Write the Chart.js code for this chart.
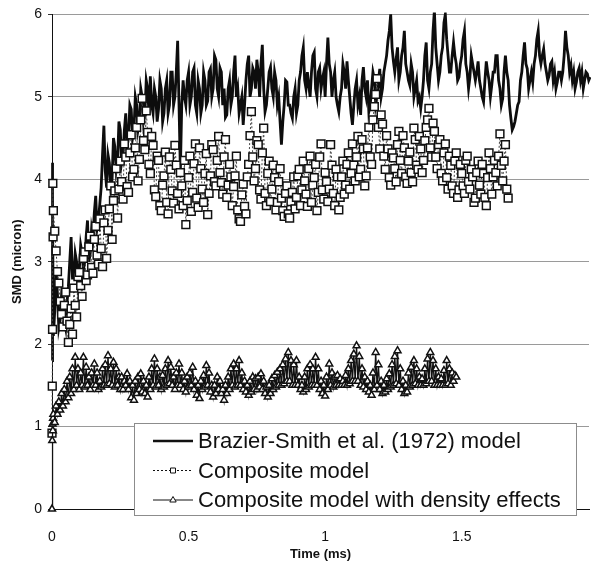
<!DOCTYPE html>
<html>
<head>
<meta charset="utf-8">
<style>
  html, body { margin: 0; padding: 0; background: #fff; }
  #wrap { width: 596px; height: 562px; }
</style>
<script src="https://cdn.jsdelivr.net/npm/chart.js@4.4.0/dist/chart.umd.min.js"></script>
</head>
<body>
<div id="wrap"><canvas id="smdChart" width="596" height="562"></canvas></div>
<script>
// sample times (ms) - a few very fine steps at the start, then every 0.005 ms
const sampleTimes = [
  0, 0.001, 0.002, 0.003, 0.004,
  0.005, 0.01, 0.015, 0.02, 0.025, 0.03, 0.035, 0.04, 0.045, 0.05,
  0.055, 0.06, 0.065, 0.07, 0.075, 0.08, 0.085, 0.09, 0.095, 0.1,
  0.105, 0.11, 0.115, 0.12, 0.125, 0.13, 0.135, 0.14, 0.145, 0.15,
  0.155, 0.16, 0.165, 0.17, 0.175, 0.18, 0.185, 0.19, 0.195, 0.2,
  0.205, 0.21, 0.215, 0.22, 0.225, 0.23, 0.235, 0.24, 0.245, 0.25,
  0.255, 0.26, 0.265, 0.27, 0.275, 0.28, 0.285, 0.29, 0.295, 0.3,
  0.305, 0.31, 0.315, 0.32, 0.325, 0.33, 0.335, 0.34, 0.345, 0.35,
  0.355, 0.36, 0.365, 0.37, 0.375, 0.38, 0.385, 0.39, 0.395, 0.4,
  0.405, 0.41, 0.415, 0.42, 0.425, 0.43, 0.435, 0.44, 0.445, 0.45,
  0.455, 0.46, 0.465, 0.47, 0.475, 0.48, 0.485, 0.49, 0.495, 0.5,
  0.505, 0.51, 0.515, 0.52, 0.525, 0.53, 0.535, 0.54, 0.545, 0.55,
  0.555, 0.56, 0.565, 0.57, 0.575, 0.58, 0.585, 0.59, 0.595, 0.6,
  0.605, 0.61, 0.615, 0.62, 0.625, 0.63, 0.635, 0.64, 0.645, 0.65,
  0.655, 0.66, 0.665, 0.67, 0.675, 0.68, 0.685, 0.69, 0.695, 0.7,
  0.705, 0.71, 0.715, 0.72, 0.725, 0.73, 0.735, 0.74, 0.745, 0.75,
  0.755, 0.76, 0.765, 0.77, 0.775, 0.78, 0.785, 0.79, 0.795, 0.8,
  0.805, 0.81, 0.815, 0.82, 0.825, 0.83, 0.835, 0.84, 0.845, 0.85,
  0.855, 0.86, 0.865, 0.87, 0.875, 0.88, 0.885, 0.89, 0.895, 0.9,
  0.905, 0.91, 0.915, 0.92, 0.925, 0.93, 0.935, 0.94, 0.945, 0.95,
  0.955, 0.96, 0.965, 0.97, 0.975, 0.98, 0.985, 0.99, 0.995, 1.0,
  1.005, 1.01, 1.015, 1.02, 1.025, 1.03, 1.035, 1.04, 1.045, 1.05,
  1.055, 1.06, 1.065, 1.07, 1.075, 1.08, 1.085, 1.09, 1.095, 1.1,
  1.105, 1.11, 1.115, 1.12, 1.125, 1.13, 1.135, 1.14, 1.145, 1.15,
  1.155, 1.16, 1.165, 1.17, 1.175, 1.18, 1.185, 1.19, 1.195, 1.2,
  1.205, 1.21, 1.215, 1.22, 1.225, 1.23, 1.235, 1.24, 1.245, 1.25,
  1.255, 1.26, 1.265, 1.27, 1.275, 1.28, 1.285, 1.29, 1.295, 1.3,
  1.305, 1.31, 1.315, 1.32, 1.325, 1.33, 1.335, 1.34, 1.345, 1.35,
  1.355, 1.36, 1.365, 1.37, 1.375, 1.38, 1.385, 1.39, 1.395, 1.4,
  1.405, 1.41, 1.415, 1.42, 1.425, 1.43, 1.435, 1.44, 1.445, 1.45,
  1.455, 1.46, 1.465, 1.47, 1.475, 1.48, 1.485, 1.49, 1.495, 1.5,
  1.505, 1.51, 1.515, 1.52, 1.525, 1.53, 1.535, 1.54, 1.545, 1.55,
  1.555, 1.56, 1.565, 1.57, 1.575, 1.58, 1.585, 1.59, 1.595, 1.6,
  1.605, 1.61, 1.615, 1.62, 1.625, 1.63, 1.635, 1.64, 1.645, 1.65,
  1.655, 1.66, 1.665, 1.67, 1.675, 1.68, 1.685, 1.69, 1.695, 1.7,
  1.705, 1.71, 1.715, 1.72, 1.725, 1.73, 1.735, 1.74, 1.745, 1.75,
  1.755, 1.76, 1.765, 1.77, 1.775, 1.78, 1.785, 1.79, 1.795, 1.8,
  1.805, 1.81, 1.815, 1.82, 1.825, 1.83, 1.835, 1.84, 1.845, 1.85,
  1.855, 1.86, 1.865, 1.87, 1.875, 1.88, 1.885, 1.89, 1.895, 1.9,
  1.905, 1.91, 1.915, 1.92, 1.925, 1.93, 1.935, 1.94, 1.945, 1.95,
  1.955, 1.96, 1.965, 1.97
];

// SMD (micron)
const brazierSmith = [
  1.8, 4.2, 3.0, 3.8, 2.4,
  2.1, 2.4, 2.9, 2.6, 2.2, 2.3, 2.6, 2.5, 2.3, 2.2,
  2.5, 2.7, 3.0, 3.3, 2.8, 2.8, 3.1, 3.0, 2.8, 2.9,
  3.2, 3.1, 2.9, 3.0, 3.3, 3.5, 3.0, 3.1, 3.4, 3.3,
  3.6, 3.8, 3.4, 3.5, 3.7, 3.9, 4.3, 4.65, 4.1, 3.9,
  4.3, 4.2, 3.9, 4.0, 4.5, 4.4, 4.1, 4.2, 4.7, 4.6,
  4.2, 4.3, 4.6, 4.8, 4.4, 4.5, 4.9, 4.85, 4.5, 4.6,
  5.0, 4.9, 4.6, 4.7, 5.1, 5.0, 4.7, 4.8, 5.2, 5.1,
  4.8, 5.25, 4.9, 4.8, 5.1, 5.0, 4.7, 4.85, 5.2, 5.1,
  4.7, 4.8, 5.1, 5.2, 4.8, 4.9, 5.3, 5.3, 4.9, 5.0,
  5.3, 5.68, 4.9, 4.1, 4.9, 5.2, 5.0, 4.9, 5.2, 5.3,
  4.9, 5.0, 5.3, 5.35, 4.9, 4.8, 5.2, 5.1, 4.8, 4.9,
  5.3, 5.2, 4.9, 4.95, 5.3, 5.34, 5.0, 5.1, 5.5, 5.45,
  5.1, 5.0, 5.35, 5.3, 4.9, 5.1, 4.75, 4.78, 5.1, 5.2,
  4.9, 5.0, 5.3, 5.5, 5.0, 5.1, 4.8, 4.9, 5.0, 4.66,
  4.9, 5.2, 5.4, 5.5, 5.0, 5.1, 5.35, 5.3, 5.1, 5.45,
  5.3, 5.0, 5.4, 5.63, 5.1, 4.82, 4.9, 5.1, 5.3, 5.36,
  5.1, 5.0, 5.3, 5.2, 4.9, 5.0, 4.7, 4.42, 4.7, 4.9,
  5.2, 5.18, 4.9, 4.9, 4.8, 4.74, 5.0, 5.1, 4.8, 4.9,
  5.2, 5.3, 5.5, 5.6, 5.2, 5.1, 5.3, 5.14, 5.0, 5.3,
  5.5, 5.54, 5.1, 5.0, 5.3, 5.35, 5.1, 5.22, 5.3, 5.0,
  5.4, 5.72, 5.4, 5.3, 5.0, 5.2, 5.3, 5.0, 4.9, 4.82,
  5.0, 5.1, 5.4, 5.3, 5.1, 5.43, 5.2, 5.0, 4.8, 4.66,
  4.9, 5.1, 5.2, 4.9, 5.0, 4.78, 5.2, 5.36, 5.1, 5.0,
  5.2, 4.82, 4.9, 5.1, 5.3, 5.22, 4.9, 5.0, 5.2, 5.34,
  5.0, 5.1, 5.3, 5.4, 5.5, 5.68, 5.8, 6.0, 5.6, 5.43,
  5.3, 5.46, 5.6, 5.2, 5.3, 5.5, 5.6, 5.8, 5.4, 5.3,
  5.2, 5.14, 5.4, 5.3, 5.0, 5.1, 5.2, 4.95, 5.0, 4.86,
  5.0, 5.2, 5.5, 5.66, 5.2, 5.1, 5.3, 5.4, 5.8, 6.05,
  5.6, 5.4, 5.2, 5.3, 5.5, 5.6, 5.9, 6.0, 5.7, 5.5,
  5.3, 5.3, 5.5, 5.66, 5.5, 5.4, 5.2, 5.24, 5.4, 5.5,
  5.7, 5.8, 5.4, 5.3, 5.1, 5.24, 5.5, 5.4, 5.3, 5.2,
  5.3, 5.43, 5.2, 5.1, 5.0, 4.94, 5.2, 5.43, 5.3, 5.2,
  5.0, 5.14, 5.3, 5.3, 5.5, 5.5, 5.2, 5.1, 4.9, 4.98,
  5.3, 5.5, 5.3, 5.2, 4.9, 4.74, 4.6, 4.64, 4.7, 4.8,
  4.9, 4.94, 5.2, 5.3, 5.5, 5.66, 5.4, 5.34, 5.1, 5.2,
  5.3, 5.18, 5.4, 5.5, 5.7, 5.8, 5.5, 5.4, 5.5, 5.58,
  5.4, 5.3, 5.2, 5.26, 5.4, 5.43, 5.2, 5.3, 5.1, 5.18,
  5.3, 5.3, 5.2, 5.3, 5.5, 5.8, 5.6, 5.5, 5.3, 5.38,
  5.2, 5.3, 5.1, 5.18, 5.3, 5.35, 5.2, 5.3, 5.1, 5.2,
  5.3, 5.28, 5.2, 5.24
];

const composite = [
  0.92, 1.49, 2.18, 3.95, 3.3,
  3.62, 3.37, 3.13, 2.88, 2.74, 2.52, 2.36, 2.21, 2.47, 2.63,
  2.28, 2.02, 2.24, 2.43, 2.12, 2.68, 2.47, 2.33, 2.82, 2.87,
  2.71, 2.58, 3.04, 3.12, 2.77, 2.84, 3.18, 3.31, 2.93, 2.86,
  3.27, 3.43, 3.08, 2.97, 3.52, 3.16, 2.94, 3.47, 3.63, 3.04,
  3.38, 3.64, 3.92, 3.27, 3.74, 3.86, 4.13, 3.53, 3.88, 4.22,
  3.97, 3.76, 4.43, 4.27, 3.91, 3.84, 4.32, 4.54, 4.03, 4.12,
  4.38, 4.63, 3.98, 4.24, 4.72, 4.98, 4.47, 4.36, 4.83, 4.57,
  4.18, 4.07, 4.52, 4.41, 3.87, 3.79, 4.28, 4.23, 3.68, 3.62,
  3.93, 4.04, 4.33, 3.72, 3.58, 4.27, 4.12, 3.86, 3.71, 4.41,
  4.17, 3.83, 3.64, 4.08, 3.92, 3.68, 4.23, 3.45, 3.74, 4.02,
  4.28, 3.61, 3.84, 4.19, 4.43, 3.77, 3.66, 4.38, 4.13, 3.88,
  3.72, 4.07, 4.31, 3.57, 3.83, 4.04, 4.42, 4.36, 3.97, 3.92,
  4.23, 4.52, 4.08, 3.96, 3.82, 4.27, 4.48, 3.78, 3.93, 4.18,
  4.03, 3.68, 3.91, 4.04, 4.28, 3.63, 3.52, 3.49, 3.81, 3.94,
  3.67, 3.58, 4.03, 4.18, 4.53, 4.82, 4.27, 3.98, 4.13, 4.47,
  4.42, 3.87, 3.76, 4.32, 4.62, 3.83, 3.68, 4.07, 4.22, 3.73,
  3.88, 4.17, 4.02, 3.63, 3.72, 3.97, 4.13, 3.77, 3.62, 3.55,
  3.83, 3.92, 3.58, 3.53, 3.73, 3.84, 4.03, 3.64, 3.78, 4.04,
  4.12, 3.68, 3.87, 4.22, 3.98, 3.82, 3.67, 4.13, 4.28, 3.72,
  3.93, 4.02, 4.18, 3.62, 3.84, 4.27, 4.43, 3.87, 3.76, 4.08,
  3.97, 3.73, 3.88, 4.42, 4.17, 3.83, 3.68, 4.12, 4.03, 3.63,
  3.78, 4.03, 4.22, 3.82, 3.93, 4.18, 4.32, 3.88, 4.07, 4.43,
  4.17, 3.98, 4.27, 4.52, 4.03, 4.12, 4.48, 4.37, 3.92, 4.04,
  4.38, 4.63, 4.27, 4.18, 4.72, 4.88, 5.03, 5.22, 4.63, 4.37,
  4.78, 4.67, 4.28, 4.12, 4.53, 4.37, 4.02, 3.93, 4.32, 4.26,
  4.13, 3.97, 4.42, 4.58, 4.23, 4.07, 4.53, 4.38, 4.03, 3.95,
  4.22, 4.33, 4.08, 3.97, 4.62, 4.48, 4.17, 4.12, 4.52, 4.37,
  4.08, 4.23, 4.47, 4.63, 4.72, 4.86, 4.38, 4.27, 4.68, 4.58,
  4.27, 4.13, 4.42, 4.48, 4.07, 3.98, 4.32, 4.43, 4.02, 3.88,
  4.28, 4.17, 3.92, 3.83, 4.22, 4.32, 3.78, 3.87, 4.18, 4.07,
  3.92, 3.83, 4.23, 4.28, 3.97, 3.88, 4.12, 4.03, 3.72, 3.77,
  4.08, 4.22, 3.93, 3.82, 4.18, 4.07, 3.78, 3.68, 4.02, 4.32,
  4.13, 3.82, 4.03, 4.23, 4.08, 3.92, 4.28, 4.55, 4.17, 3.98,
  4.22, 4.42, 3.88, 3.77
];

const compositeDensity = [
  0, 0.83, 1.03, 0.95, 1.1,
  1.15, 1.05, 1.25, 1.15, 1.3, 1.2, 1.4, 1.25, 1.45, 1.3,
  1.55, 1.35, 1.6, 1.4, 1.7, 1.45, 1.84, 1.5, 1.7, 1.45,
  1.65, 1.5, 1.84, 1.48, 1.72, 1.5, 1.6, 1.45, 1.65, 1.5,
  1.76, 1.5, 1.65, 1.45, 1.55, 1.48, 1.7, 1.5, 1.75, 1.5,
  1.86, 1.52, 1.7, 1.5, 1.78, 1.48, 1.7, 1.5, 1.6, 1.45,
  1.6, 1.45, 1.55, 1.5, 1.64, 1.45, 1.55, 1.35, 1.5, 1.32,
  1.55, 1.4, 1.6, 1.45, 1.64, 1.42, 1.55, 1.4, 1.5, 1.36,
  1.6, 1.45, 1.7, 1.5, 1.82, 1.48, 1.7, 1.5, 1.6, 1.45,
  1.62, 1.48, 1.7, 1.5, 1.8, 1.52, 1.72, 1.5, 1.6, 1.45,
  1.65, 1.5, 1.76, 1.5, 1.65, 1.45, 1.55, 1.42, 1.6, 1.48,
  1.65, 1.5, 1.72, 1.45, 1.55, 1.38, 1.5, 1.34, 1.55, 1.45,
  1.62, 1.48, 1.74, 1.5, 1.65, 1.42, 1.5, 1.36, 1.5, 1.4,
  1.6, 1.45, 1.55, 1.4, 1.45, 1.32, 1.5, 1.4, 1.6, 1.45,
  1.7, 1.5, 1.76, 1.48, 1.7, 1.5, 1.8, 1.5, 1.65, 1.45,
  1.55, 1.42, 1.5, 1.38, 1.55, 1.42, 1.6, 1.45, 1.58, 1.45,
  1.6, 1.48, 1.64, 1.45, 1.55, 1.4, 1.48, 1.36, 1.5, 1.4,
  1.58, 1.45, 1.62, 1.48, 1.66, 1.5, 1.7, 1.5, 1.75, 1.52,
  1.82, 1.55, 1.9, 1.55, 1.8, 1.5, 1.75, 1.5, 1.8, 1.5,
  1.6, 1.45, 1.5, 1.42, 1.6, 1.45, 1.7, 1.48, 1.75, 1.5,
  1.7, 1.5, 1.84, 1.5, 1.7, 1.45, 1.55, 1.4, 1.5, 1.37,
  1.6, 1.45, 1.76, 1.5, 1.65, 1.48, 1.6, 1.5, 1.62, 1.5,
  1.58, 1.5, 1.55, 1.5, 1.62, 1.5, 1.7, 1.52, 1.8, 1.55,
  1.88, 1.55, 1.98, 1.55, 1.85, 1.5, 1.7, 1.48, 1.6, 1.45,
  1.55, 1.42, 1.5, 1.38, 1.65, 1.45, 1.9, 1.5, 1.75, 1.45,
  1.55, 1.4, 1.5, 1.42, 1.58, 1.45, 1.64, 1.48, 1.75, 1.5,
  1.85, 1.52, 1.92, 1.5, 1.7, 1.45, 1.55, 1.4, 1.5, 1.42,
  1.65, 1.48, 1.72, 1.5, 1.8, 1.52, 1.7, 1.5, 1.6, 1.5,
  1.58, 1.5, 1.7, 1.52, 1.82, 1.55, 1.9, 1.55, 1.8, 1.5,
  1.7, 1.5, 1.6, 1.5, 1.58, 1.5, 1.68, 1.5, 1.8, 1.52,
  1.7, 1.5, 1.65, 1.55, 1.62, 1.6
];

const seriesNames = [
  'Brazier-Smith et al. (1972) model',
  'Composite model',
  'Composite model with density effects'
];
const xTickValues = [0, 0.5, 1, 1.5];

const FONT = '"Liberation Sans", Arial, Helvetica, sans-serif';

function toPoints(values) {
  return values.map((v, i) => ({ x: sampleTimes[i], y: v }));
}

// small marker used in the legend box
function drawMarker(ctx, style, x, y) {
  ctx.save();
  ctx.setLineDash([]);
  ctx.lineWidth = 1;
  ctx.strokeStyle = '#111';
  ctx.fillStyle = '#fff';
  ctx.beginPath();
  if (style === 'rect') {
    ctx.rect(x - 2.5, y - 2.5, 5, 5);
  } else if (style === 'triangle') {
    ctx.moveTo(x, y - 3.5);
    ctx.lineTo(x + 3.2, y + 2);
    ctx.lineTo(x - 3.2, y + 2);
    ctx.closePath();
  }
  ctx.fill();
  ctx.stroke();
  ctx.restore();
}

// legend sits inside the plot, over the axis line, like the original
const boxLegend = {
  id: 'boxLegend',
  afterDraw(chart) {
    const ctx = chart.ctx;
    ctx.save();
    ctx.fillStyle = '#fff';
    ctx.fillRect(134, 423, 442, 92);
    ctx.strokeStyle = '#8c8c8c';
    ctx.lineWidth = 1;
    ctx.strokeRect(134.5, 423.5, 442, 92);

    ctx.font = '22px ' + FONT;
    ctx.textBaseline = 'middle';
    chart.data.datasets.forEach((ds, i) => {
      const y = 441 + i * 29.5;
      ctx.strokeStyle = '#111';
      ctx.lineWidth = i === 0 ? 2.6 : 1;
      ctx.setLineDash(ds.borderDash || []);
      ctx.beginPath();
      ctx.moveTo(153, y);
      ctx.lineTo(193, y);
      ctx.stroke();
      if (ds.pointRadius > 0) drawMarker(ctx, ds.pointStyle, 173, y);
      ctx.setLineDash([]);
      ctx.fillStyle = '#111';
      ctx.fillText(ds.label, 198, y + 1);
    });
    ctx.restore();
  }
};

const ctx = document.getElementById('smdChart').getContext('2d');
const smdChart = new Chart(ctx, {
  type: 'line',
  data: {
    datasets: [
      {
        label: seriesNames[0],
        data: toPoints(brazierSmith),
        borderColor: '#0d0d0d',
        borderWidth: 2.8,
        borderJoinStyle: 'miter',
        pointRadius: 0,
        tension: 0,
        order: 3,
        clip: 2
      },
      {
        label: seriesNames[1],
        data: toPoints(composite),
        borderColor: '#444',
        borderWidth: 1,
        borderDash: [2, 2],
        pointStyle: 'rect',
        pointRadius: 5.5,
        pointBorderWidth: 1.5,
        pointBorderColor: '#111',
        pointBackgroundColor: '#fff',
        tension: 0,
        order: 2,
        clip: 8
      },
      {
        label: seriesNames[2],
        data: toPoints(compositeDensity),
        borderColor: '#111',
        borderWidth: 1.3,
        pointStyle: 'triangle',
        pointRadius: 4,
        pointBorderWidth: 1.5,
        pointBorderColor: '#111',
        pointBackgroundColor: '#fff',
        tension: 0,
        order: 1,
        clip: 8
      }
    ]
  },
  options: {
    responsive: false,
    animation: false,
    events: [],
    layout: { padding: { top: 12, right: 0, left: 0, bottom: 0 } },
    plugins: {
      legend: { display: false },
      tooltip: { enabled: false }
    },
    scales: {
      x: {
        type: 'linear',
        min: 0,
        max: 1.966,
        afterFit: (scale) => { scale.height = 53; },
        afterBuildTicks: (scale) => { scale.ticks = xTickValues.map(v => ({ value: v })); },
        grid: { display: false },
        border: { display: true, color: '#111', width: 1 },
        ticks: {
          color: '#111',
          padding: 12,
          maxRotation: 0,
          font: { family: FONT, size: 14 },
          callback: (v) => String(v)
        },
        title: {
          display: true,
          text: 'Time (ms)',
          color: '#111',
          padding: { top: 2, bottom: 0 },
          font: { family: FONT, size: 13, weight: 'bold' }
        }
      },
      y: {
        min: 0,
        max: 6,
        afterFit: (scale) => { scale.width = 52; },
        grid: {
          color: '#9a9a9a',
          lineWidth: 1,
          tickLength: 4,
          tickColor: '#333'
        },
        border: { display: true, color: '#111', width: 1 },
        ticks: {
          stepSize: 1,
          color: '#111',
          padding: 6,
          font: { family: FONT, size: 14 }
        },
        title: {
          display: true,
          text: 'SMD (micron)',
          color: '#111',
          padding: { top: 10, bottom: 0 },
          font: { family: FONT, size: 13, weight: 'bold' }
        }
      }
    }
  },
  plugins: [boxLegend]
});
</script>
</body>
</html>
